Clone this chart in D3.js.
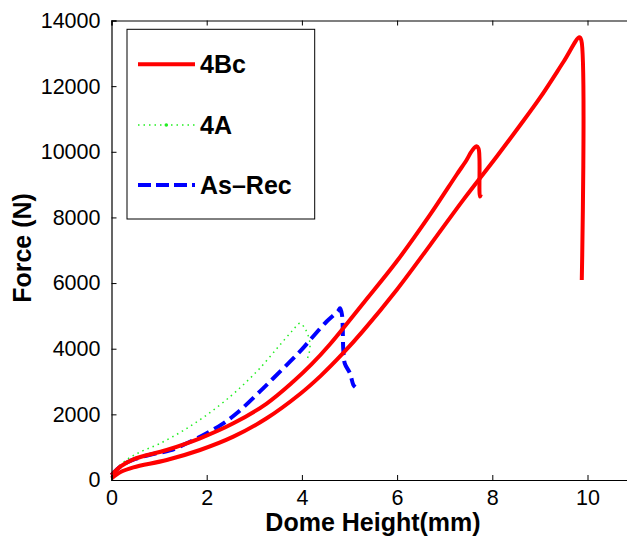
<!DOCTYPE html>
<html>
<head>
<meta charset="utf-8">
<script src="https://cdn.jsdelivr.net/npm/d3@7"></script>
<style>
  body { margin: 0; background: #fff; }
  svg text { font-family: "Liberation Sans", Arial, sans-serif; fill: #000; }
</style>
</head>
<body>
<script>
// dome height (mm), force (N)
var run4BcA = [[0, 150], [0.2, 420], [0.46, 630], [1.16, 914], [1.86, 1270], [2.56, 1727],
	[3.26, 2330], [3.82, 3000], [4.2, 3520], [4.59, 4135], [5.29, 5385], [5.99, 6655],
	[6.69, 8075], [7.25, 9300], [7.46, 9750], [7.55, 9980], [7.62, 10120], [7.67, 10170],
	[7.71, 10100], [7.73, 9800], [7.74, 8635], [7.76, 8700]];
var run4BcB = [[0, 50], [0.2, 250], [0.46, 387], [1.16, 610], [1.86, 914], [2.56, 1320],
	[3.26, 1880], [3.96, 2620], [4.4, 3180], [4.87, 3870], [5.29, 4550], [5.99, 5790],
	[6.69, 7150], [7.39, 8535], [8.09, 9850], [8.58, 10800], [9.0, 11640], [9.5, 12750],
	[9.83, 13490], [9.87, 13400], [9.88, 6095]];
var run4A = [[0, 200], [0.3, 600], [0.6, 850], [1.0, 1100], [1.5, 1500], [2.0, 1980],
	[2.5, 2550], [2.84, 3000], [3.12, 3410], [3.5, 4050], [3.8, 4550], [3.96, 4780],
	[4.05, 4650], [4.12, 4450], [4.17, 4150], [4.15, 3850], [4.1, 3650]];
var runAsRec = [[0, 150], [0.2, 430], [0.5, 640], [0.9, 800], [1.23, 900], [1.65, 1167],
	[2.0, 1422], [2.35, 1727], [2.63, 2032], [3.12, 2700], [3.4, 3100], [3.75, 3605],
	[4.0, 3980], [4.24, 4380], [4.52, 4830], [4.76, 5150], [4.8, 5230], [4.84, 5050],
	[4.87, 3960], [4.9, 3555], [5.01, 3250], [5.08, 2900], [5.12, 2830]];

var xTicks = [0, 2, 4, 6, 8, 10];
var yTicks = [0, 2000, 4000, 6000, 8000, 10000, 12000, 14000];
var legendNames = ["4Bc", "4A", "As\u2013Rec"];

var width = 627, height = 540;
var x0 = 111.5, x1 = 111.5 + 12 * 47.6, y0 = 480, y1 = 20.5;

var x = d3.scaleLinear().domain([0, 12]).range([x0, x1]);
var y = d3.scaleLinear().domain([0, 14000]).range([y0, y1]);

var svg = d3.select("body").append("svg")
	.attr("width", width)
	.attr("height", height);

var line = d3.line()
	.curve(d3.curveCatmullRom.alpha(0.5))
	.x(function (d) { return x(d[0]); })
	.y(function (d) { return y(d[1]); });

// curves, red drawn last so it sits on top
svg.append("path").datum(runAsRec)
	.attr("d", line).attr("fill", "none")
	.attr("stroke", "#0000ff").attr("stroke-width", 4)
	.attr("stroke-dasharray", "13,6");

svg.append("path").datum(run4A)
	.attr("d", line).attr("fill", "none")
	.attr("stroke", "#22ee22").attr("stroke-width", 1.5)
	.attr("stroke-dasharray", "1.5,4");

[run4BcA, run4BcB].forEach(function (run) {
	svg.append("path").datum(run)
		.attr("d", line).attr("fill", "none")
		.attr("stroke", "#ff0000").attr("stroke-width", 4)
		.attr("stroke-linejoin", "round");
});

// axes box with inward ticks (MATLAB style)
var noLabel = function () { return ""; };
var axBottom = d3.axisBottom(x).tickValues(xTicks).tickSize(-5).tickPadding(10).tickFormat(d3.format("d"));
var axTop = d3.axisTop(x).tickValues(xTicks).tickSize(-5).tickFormat(noLabel);
var axLeft = d3.axisLeft(y).tickValues(yTicks).tickSize(-5).tickPadding(11).tickFormat(d3.format("d"));

var gb = svg.append("g").attr("transform", "translate(0," + y0 + ")").call(axBottom);
var gt = svg.append("g").attr("transform", "translate(0," + y1 + ")").call(axTop);
var gl = svg.append("g").attr("transform", "translate(" + x0 + ",0)").call(axLeft);

[gb, gt, gl].forEach(function (g) {
	g.select(".domain").attr("stroke", "#000").attr("stroke-width", 1.2);
	g.selectAll(".tick line").attr("stroke", "#000").attr("stroke-width", 1);
	g.selectAll(".tick text").attr("font-size", 21.5).attr("fill", "#000")
		.attr("font-family", "Liberation Sans, Arial, sans-serif");
});

svg.append("text")
	.attr("x", 373).attr("y", 531)
	.attr("text-anchor", "middle")
	.attr("font-size", 25).attr("font-weight", "bold")
	.text("Dome Height(mm)");

svg.append("text")
	.attr("transform", "translate(31,248) rotate(-90)")
	.attr("text-anchor", "middle")
	.attr("font-size", 25).attr("font-weight", "bold")
	.text("Force (N)");

// legend
var lg = svg.append("g");
lg.append("rect")
	.attr("x", 127).attr("y", 29.3).attr("width", 187.7).attr("height", 189.7)
	.attr("fill", "#fff").attr("stroke", "#000").attr("stroke-width", 1);

var rowY = [64.3, 125, 185];
var styles = [
	{ color: "#ff0000", w: 4, dash: null },
	{ color: "#22ee22", w: 1.5, dash: "1.5,4" },
	{ color: "#0000ff", w: 4, dash: "13,5" }
];
legendNames.forEach(function (name, i) {
	var s = styles[i];
	var l = lg.append("line")
		.attr("x1", 138).attr("x2", 195)
		.attr("y1", rowY[i]).attr("y2", rowY[i])
		.attr("stroke", s.color).attr("stroke-width", s.w);
	if (s.dash) l.attr("stroke-dasharray", s.dash);
	lg.append("text")
		.attr("x", 200).attr("y", rowY[i] + 9)
		.attr("font-size", 25).attr("font-weight", "bold")
		.text(name);
});
lg.append("circle").attr("cx", 166.3).attr("cy", 125).attr("r", 1.8).attr("fill", "#22ee22");
</script>
</body>
</html>
